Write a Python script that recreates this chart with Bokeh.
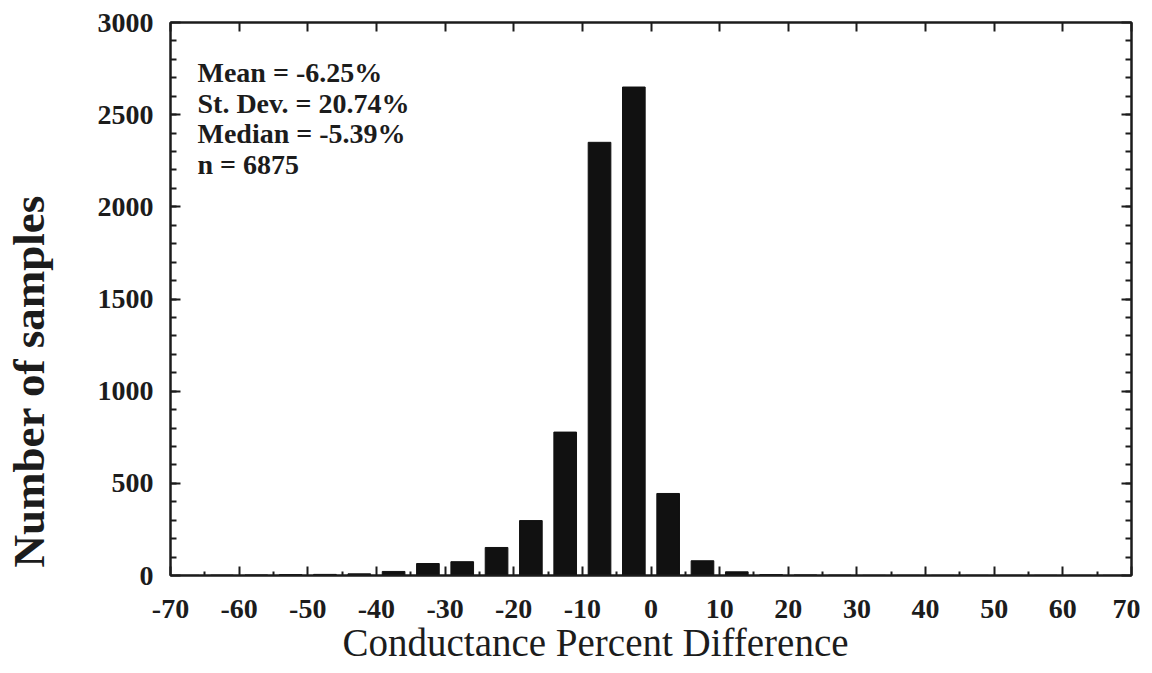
from bokeh.plotting import figure
from bokeh.models import LinearAxis, Range1d, Label, FixedTicker, CustomJSTickFormatter, Title
from bokeh.embed import file_html
from bokeh.resources import INLINE

# Data (bin centers, 5-unit bins)
bin_centers = [-67.5, -62.5, -57.5, -52.5, -47.5, -42.5, -37.5, -32.5, -27.5, -22.5,
               -17.5, -12.5, -7.5, -2.5, 2.5, 7.5, 12.5, 17.5, 22.5, 27.5,
               32.5, 37.5, 42.5, 47.5, 52.5, 57.5, 62.5, 67.5]
counts = [1, 2, 3, 5, 6, 9, 22, 65, 75, 152,
          298, 778, 2350, 2650, 445, 80, 20, 5, 3, 2,
          1, 1, 1, 1, 1, 1, 1, 1]
x_ticks = [-70, -60, -50, -40, -30, -20, -10, 0, 10, 20, 30, 40, 50, 60, 70]
y_ticks = [0, 500, 1000, 1500, 2000, 2500, 3000]
stats_lines = ["Mean = -6.25%", "St. Dev. = 20.74%", "Median = -5.39%", "n = 6875"]
x_title = "Conductance Percent Difference"
y_title = "Number of samples"

SERIF = "Liberation Serif"
INK = "#1c1c1c"

p = figure(width=1140, height=665, output_backend="svg", toolbar_location=None,
           x_range=Range1d(-70, 70), y_range=Range1d(0, 3000),
           min_border_left=170, min_border_right=9, min_border_top=22, min_border_bottom=90)
p.grid.visible = False
p.outline_line_color = INK
p.outline_line_width = 2
p.background_fill_color = "white"
p.border_fill_color = "white"

p.vbar(x=bin_centers, top=counts, width=3.3, bottom=0, fill_color="#111111", line_color="#111111")

def style_axis(ax, major_in, minor_in):
    ax.axis_line_color = INK
    ax.axis_line_width = 2
    ax.major_tick_line_color = INK
    ax.major_tick_line_width = 2
    ax.minor_tick_line_color = INK
    ax.minor_tick_line_width = 2
    ax.major_tick_in = major_in
    ax.major_tick_out = 0
    ax.minor_tick_in = minor_in
    ax.minor_tick_out = 0
    ax.major_label_text_font = SERIF
    ax.major_label_text_font_style = "bold"
    ax.major_label_text_font_size = "28px"
    ax.major_label_text_color = INK

xa = p.xaxis[0]
style_axis(xa, 9, 4)
xa.ticker = FixedTicker(ticks=x_ticks, minor_ticks=[v + 5 for v in x_ticks[:-1]])
xa.major_label_overrides = {v: str(v) for v in x_ticks}
xa.major_label_standoff = 24

ya = p.yaxis[0]
style_axis(ya, 10, 6)
ya.ticker = FixedTicker(ticks=y_ticks, minor_ticks=list(range(100, 3000, 100)))
ya.major_label_overrides = {v: str(v) for v in y_ticks}
ya.major_label_standoff = 17

blank = CustomJSTickFormatter(code="return ''")

# invisible spacer axis on the left, to push the y title outward
spacer = LinearAxis(ticker=FixedTicker(ticks=[1500], minor_ticks=[]), formatter=blank)
spacer.axis_line_color = None
spacer.major_tick_line_color = None
spacer.minor_tick_line_color = None
spacer.major_tick_in = 0
spacer.major_tick_out = 40
spacer.minor_tick_in = 0
spacer.minor_tick_out = 0
spacer.major_label_standoff = 0
p.add_layout(spacer, "left")

top_ax = LinearAxis()
style_axis(top_ax, 9, 0)
top_ax.ticker = FixedTicker(ticks=x_ticks)
top_ax.formatter = blank
top_ax.major_label_standoff = 0
p.add_layout(top_ax, "above")

right_ax = LinearAxis()
style_axis(right_ax, 10, 6)
right_ax.ticker = FixedTicker(ticks=y_ticks, minor_ticks=list(range(100, 3000, 100)))
right_ax.formatter = blank
right_ax.major_label_standoff = 0
p.add_layout(right_ax, "right")

for i, line in enumerate(stats_lines):
    p.add_layout(Label(x=27, y=503 - i * 30.5, x_units="screen", y_units="screen",
                       text=line, text_font=SERIF, text_font_style="bold",
                       text_font_size="28px", text_color=INK, text_baseline="middle"))

p.add_layout(Title(text=x_title, align="left", offset=172, vertical_align="top",
                   standoff=0, text_font=SERIF, text_font_style="normal",
                   text_font_size="39px", text_color=INK), "below")
p.add_layout(Title(text=y_title, align="left", offset=8, vertical_align="middle",
                   standoff=0, text_font=SERIF, text_font_style="bold",
                   text_font_size="45px", text_color=INK), "left")

open("out.html", "w").write(file_html(p, INLINE))
